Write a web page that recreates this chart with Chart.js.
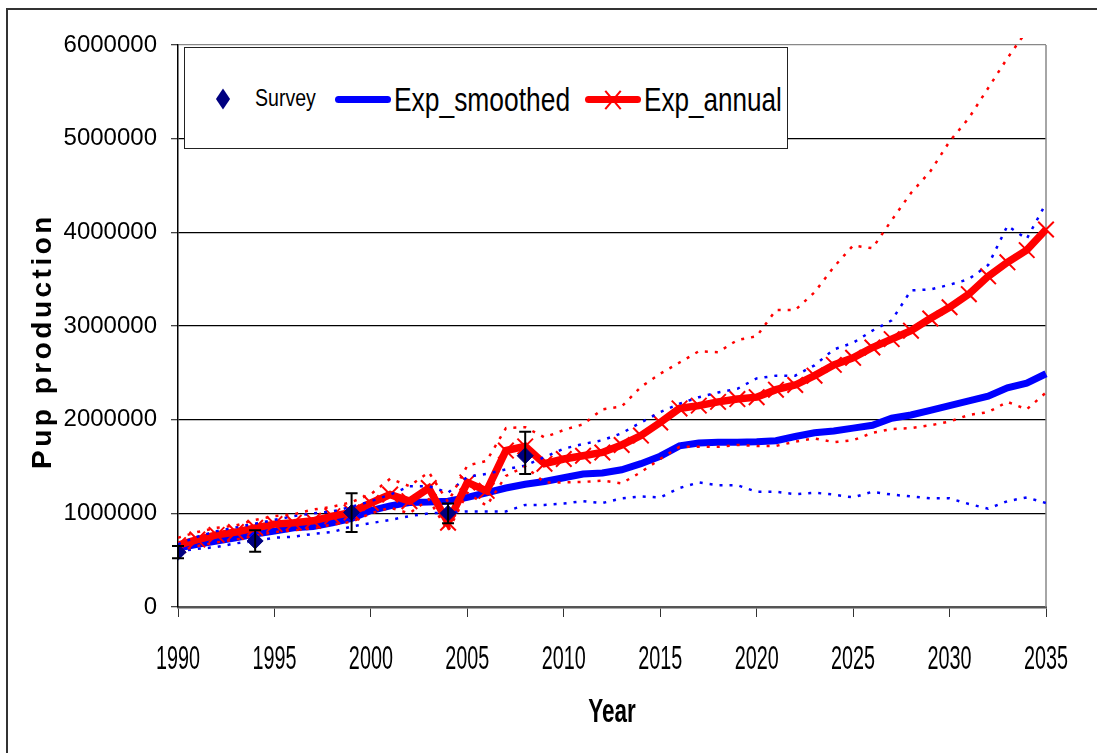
<!DOCTYPE html>
<html>
<head>
<meta charset="utf-8">
<script src="https://cdn.jsdelivr.net/npm/chart.js@4.4.1/dist/chart.umd.min.js"></script>
<style>
    body { margin: 0; background: #fff; }
    #wrap { position: relative; width: 1097px; height: 753px; overflow: hidden; }
    #frame { position: absolute; left: 6px; top: 8px; width: 1120px; height: 800px; border: 2px solid #333; }
    canvas { position: absolute; left: 0; top: 0; }
    #legend { position: absolute; left: 184px; top: 47px; width: 602px; height: 100px; border: 1.5px solid #222;
        background: #fff; font-family: 'Liberation Sans', Arial, sans-serif; color: #000; }
    #legend span { position: absolute; white-space: nowrap; line-height: 1; transform-origin: 0 50%; }
    .diamond { position: absolute; left: 33px; top: 46px; width: 10px; height: 10px; background: #000080;
        transform: scaleY(1.5) rotate(45deg); }
    .bar { position: absolute; height: 7px; border-radius: 4px; }
    .xm { position: absolute; width: 2px; height: 24px; background: #ff0000; }
</style>
</head>
<body>
<div id="wrap">
    <div id="frame"></div>
    <canvas id="pupChart" width="1097" height="753"></canvas>
    <div id="legend">
        <div class="diamond"></div>
        <span style="left:70px; top:39px; font-size:23px; transform: scaleX(0.85);">Survey</span>
        <div class="bar" style="left:150px; top:48px; width:56px; background:#0000ff;"></div>
        <span style="left:209px; top:35px; font-size:33px; transform: scaleX(0.8);">Exp_smoothed</span>
        <div class="bar" style="left:400px; top:48px; width:56px; background:#ff0000;"></div>
        <div class="xm" style="left:427px; top:40px; transform: rotate(40deg);"></div>
        <div class="xm" style="left:427px; top:40px; transform: rotate(-40deg);"></div>
        <span style="left:459px; top:35px; font-size:33px; transform: scaleX(0.79);">Exp_annual</span>
    </div>
</div>
<script>
const years = [1990, 1991, 1992, 1993, 1994, 1995, 1996, 1997, 1998, 1999,
    2000, 2001, 2002, 2003, 2004, 2005, 2006, 2007, 2008, 2009,
    2010, 2011, 2012, 2013, 2014, 2015, 2016, 2017, 2018, 2019,
    2020, 2021, 2022, 2023, 2024, 2025, 2026, 2027, 2028, 2029,
    2030, 2031, 2032, 2033, 2034, 2035, 2036];

// values in millions of pups
const expSmoothed = [0.63, 0.67, 0.705, 0.74, 0.78, 0.81, 0.845, 0.86, 0.90, 0.945,
    1.03, 1.08, 1.115, 1.12, 1.13, 1.17, 1.22, 1.27, 1.31, 1.34,
    1.38, 1.42, 1.43, 1.465, 1.53, 1.61, 1.72, 1.75, 1.76, 1.76,
    1.765, 1.775, 1.82, 1.86, 1.88, 1.91, 1.94, 2.015, 2.05, 2.10,
    2.15, 2.20, 2.25, 2.34, 2.39, 2.49, 2.60];
const expSmoothedHigh = [0.67, 0.75, 0.81, 0.85, 0.89, 0.93, 0.97, 1.00, 1.02, 1.07,
    1.13, 1.20, 1.29, 1.29, 1.22, 1.39, 1.42, 1.47, 1.51, 1.60,
    1.69, 1.74, 1.78, 1.855, 1.97, 2.08, 2.17, 2.24, 2.29, 2.33,
    2.44, 2.47, 2.47, 2.58, 2.75, 2.82, 2.95, 3.06, 3.38, 3.39,
    3.44, 3.50, 3.65, 4.07, 3.93, 4.31, 4.60];
const expSmoothedLow = [0.595, 0.62, 0.64, 0.68, 0.705, 0.74, 0.75, 0.78, 0.80, 0.86,
    0.895, 0.93, 0.97, 1.00, 1.01, 1.02, 1.02, 1.02, 1.09, 1.09,
    1.105, 1.13, 1.11, 1.16, 1.18, 1.17, 1.27, 1.33, 1.30, 1.30,
    1.23, 1.23, 1.205, 1.22, 1.20, 1.17, 1.23, 1.20, 1.18, 1.16,
    1.16, 1.10, 1.05, 1.13, 1.17, 1.11, 1.05];

const expAnnual = [0.66, 0.72, 0.77, 0.80, 0.845, 0.885, 0.90, 0.92, 0.97, 1.01,
    1.11, 1.20, 1.13, 1.27, 0.90, 1.33, 1.24, 1.67, 1.715, 1.53,
    1.58, 1.615, 1.65, 1.73, 1.83, 1.97, 2.12, 2.15, 2.19, 2.22,
    2.24, 2.32, 2.37, 2.47, 2.585, 2.66, 2.77, 2.86, 2.95, 3.08,
    3.20, 3.34, 3.53, 3.68, 3.81, 4.03, 4.20];
const expAnnualHigh = [0.74, 0.80, 0.845, 0.87, 0.93, 0.97, 0.99, 1.04, 1.07, 1.12,
    1.205, 1.37, 1.29, 1.44, 1.12, 1.51, 1.56, 1.91, 1.92, 1.81,
    1.89, 1.95, 2.11, 2.14, 2.35, 2.49, 2.61, 2.73, 2.72, 2.85,
    2.89, 3.17, 3.17, 3.36, 3.63, 3.86, 3.83, 4.13, 4.42, 4.65,
    4.97, 5.22, 5.54, 5.86, 6.15, 6.50, null];
const expAnnualLow = [0.60, 0.65, 0.69, 0.72, 0.76, 0.80, 0.82, 0.84, 0.88, 0.91,
    1.00, 1.06, 1.00, 1.15, 0.81, 1.22, 1.08, 1.40, 1.50, 1.33,
    1.33, 1.335, 1.35, 1.32, 1.44, 1.58, 1.71, 1.71, 1.71, 1.73,
    1.72, 1.72, 1.765, 1.80, 1.76, 1.78, 1.86, 1.90, 1.91, 1.94,
    1.98, 2.05, 2.08, 2.19, 2.11, 2.29, 2.50];

const surveyYears = [1990, 1994, 1999, 2004, 2008];
const surveyValues = [585000, 705000, 1010000, 1000000, 1615000];
const surveyLow = [520000, 590000, 800000, 895000, 1420000];
const surveyHigh = [650000, 820000, 1215000, 1105000, 1870000];

const yTicks = [0, 1000000, 2000000, 3000000, 4000000, 5000000, 6000000];
const xTicks = [1990, 1995, 2000, 2005, 2010, 2015, 2020, 2025, 2030, 2035];

function toPoints(values) {
    return years.map((yr, i) => ({ x: yr, y: values[i] === null ? null : values[i] * 1000000 }));
}

const arial = "'Liberation Sans', Arial, sans-serif";
const lineClip = { left: 0, top: 7, right: 9, bottom: 0 };

// error bars for the survey estimates, drawn through the chart scales
const surveyErrorBars = {
    id: 'surveyErrorBars',
    beforeDatasetsDraw(chart) {
        const { ctx, chartArea } = chart;
        ctx.save();
        ctx.strokeStyle = '#888';
        ctx.lineWidth = 1.5;
        ctx.beginPath();
        ctx.moveTo(chartArea.right, chartArea.top);
        ctx.lineTo(chartArea.right, chartArea.bottom);
        ctx.stroke();
        ctx.restore();
    },
    afterDatasetsDraw(chart) {
        const { ctx, scales: { x, y } } = chart;
        ctx.save();
        ctx.strokeStyle = '#000';
        ctx.lineWidth = 2;
        surveyYears.forEach((yr, i) => {
            const px = x.getPixelForValue(yr);
            const top = y.getPixelForValue(surveyHigh[i]);
            const bot = y.getPixelForValue(surveyLow[i]);
            ctx.beginPath();
            ctx.moveTo(px, top); ctx.lineTo(px, bot);
            ctx.moveTo(px - 6, top); ctx.lineTo(px + 6, top);
            ctx.moveTo(px - 6, bot); ctx.lineTo(px + 6, bot);
            ctx.stroke();
        });
        ctx.restore();
    }
};

const ctx = document.getElementById('pupChart').getContext('2d');

const pupChart = new Chart(ctx, {
    type: 'line',
    data: {
        datasets: [
            {
                label: 'Survey',
                data: surveyYears.map((yr, i) => ({ x: yr, y: surveyValues[i] })),
                showLine: false,
                pointStyle: 'rectRot',
                pointRadius: 8,
                backgroundColor: '#000080',
                borderColor: '#000080',
                borderWidth: 1
            },
            {
                label: 'Exp_annual upper',
                data: toPoints(expAnnualHigh),
                borderColor: '#ff0000',
                borderWidth: 2.5,
                borderDash: [3, 7],
                pointRadius: 0,
                clip: lineClip
            },
            {
                label: 'Exp_annual lower',
                data: toPoints(expAnnualLow),
                borderColor: '#ff0000',
                borderWidth: 2.5,
                borderDash: [3, 7],
                pointRadius: 0,
                clip: lineClip
            },
            {
                label: 'Exp_smoothed upper',
                data: toPoints(expSmoothedHigh),
                borderColor: '#0000ff',
                borderWidth: 2.5,
                borderDash: [3, 7],
                pointRadius: 0,
                clip: lineClip
            },
            {
                label: 'Exp_smoothed lower',
                data: toPoints(expSmoothedLow),
                borderColor: '#0000ff',
                borderWidth: 2.5,
                borderDash: [3, 7],
                pointRadius: 0,
                clip: lineClip
            },
            {
                label: 'Exp_annual',
                data: toPoints(expAnnual),
                borderColor: '#ff0000',
                borderWidth: 7.5,
                pointStyle: 'crossRot',
                pointRadius: 11,
                pointBorderWidth: 2,
                pointBorderColor: '#ff0000',
                clip: lineClip
            },
            {
                label: 'Exp_smoothed',
                data: toPoints(expSmoothed),
                borderColor: '#0000ff',
                borderWidth: 7,
                pointRadius: 0,
                clip: lineClip
            }
        ]
    },
    options: {
        responsive: false,
        animation: false,
        devicePixelRatio: 1,
        layout: { padding: { left: 0, top: 45, right: 51, bottom: 0 } },
        plugins: {
            legend: { display: false },
            tooltip: { enabled: false }
        },
        scales: {
            x: {
                type: 'linear',
                min: 1990,
                max: 2035,
                afterBuildTicks: (scale) => { scale.ticks = xTicks.map(v => ({ value: v })); },
                afterFit: (scale) => {
                    scale.height = 146;
                    scale.paddingLeft = 0;
                    scale.paddingRight = 0;
                },
                grid: { drawOnChartArea: false, drawTicks: true, tickLength: 10, tickColor: '#333', lineWidth: 1 },
                border: { color: '#555', width: 2.5 },
                ticks: {
                    padding: 23,
                    color: '#000',
                    font: { family: arial, size: 33 },
                    callback: (v) => String(v)
                },
                title: {
                    display: true,
                    text: 'Year',
                    color: '#000',
                    font: { family: arial, size: 34, weight: 'bold' },
                    padding: { top: 0, bottom: 20 }
                }
            },
            y: {
                min: 0,
                max: 6000000,
                afterBuildTicks: (scale) => { scale.ticks = yTicks.map(v => ({ value: v })); },
                afterFit: (scale) => { scale.width = 178; },
                grid: {
                    color: (c) => (c.tick && c.tick.value === 6000000 ? '#888' : '#000'),
                    lineWidth: 1.3,
                    tickLength: 7,
                    tickColor: '#444'
                },
                border: { color: '#000', width: 1.5 },
                ticks: {
                    padding: 14,
                    color: '#000',
                    font: { family: arial, size: 24 },
                    callback: (v) => String(v)
                },
                title: {
                    display: true,
                    text: 'Pup production',
                    color: '#000',
                    font: { family: arial, size: 28, weight: 'bold' },
                    padding: { top: 26, bottom: 0 }
                }
            }
        }
    },
    plugins: [surveyErrorBars]
});

// narrow lettering on the year axis: squeeze each label around its own anchor
const xScale = pupChart.scales.x;
function squeezed(fn, factor) {
    return function (area) {
        const c = this.ctx;
        const translate = c.translate;
        c.translate = function (tx, ty) { translate.call(c, tx, ty); c.scale(factor, 1); };
        fn(area);
        c.translate = translate;
    };
}
xScale.drawLabels = squeezed(xScale.drawLabels.bind(xScale), 0.6);
xScale.drawTitle = squeezed(xScale.drawTitle.bind(xScale), 0.66);

// spaced lettering on the vertical axis title, as in the original
const yScale = pupChart.scales.y;
const drawYTitle = yScale.drawTitle.bind(yScale);
yScale.drawTitle = function () {
    this.ctx.save();
    this.ctx.letterSpacing = '3.5px';
    this.ctx.translate(0, 15);
    drawYTitle();
    this.ctx.restore();
};
pupChart.draw();
</script>
</body>
</html>
